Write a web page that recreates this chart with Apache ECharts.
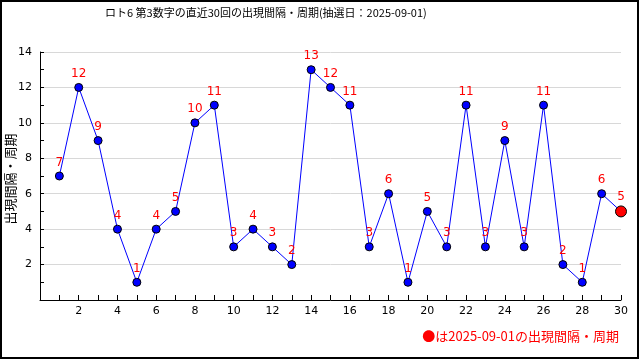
<!DOCTYPE html>
<html><head><meta charset="utf-8">
<script src="https://cdn.jsdelivr.net/npm/echarts@6/dist/echarts.min.js"></script>
<style>html,body{margin:0;padding:0;background:#fff}#c{width:640px;height:360px}</style>
</head><body><div id="c"></div>
<script>
const titleText = 'ロト6 第3数字の直近30回の出現間隔・周期(抽選日：2025-09-01)';
const yName = '出現間隔・周期';
const legendText = '●は2025-09-01の出現間隔・周期';
const draws = [1,2,3,4,5,6,7,8,9,10,11,12,13,14,15,16,17,18,19,20,21,22,23,24,25,26,27,28,29,30];
const intervals = [7,12,9,4,1,4,5,10,11,3,4,3,2,13,12,11,3,6,1,5,3,11,3,9,3,11,2,1,6,5];

const font = '"DejaVu Sans", sans-serif';
const jp = '"Noto Sans CJK JP", sans-serif';
const data = draws.map((d, i) => {
  const last = i === draws.length - 1;
  return last ? {value:[d, intervals[i]], symbolSize: 11, itemStyle:{color:'#ff0000', borderColor:'#000', borderWidth:1}} : [d, intervals[i]];
});
const chart = echarts.init(document.getElementById('c'), null, {renderer:'canvas'});
chart.setOption({
  animation:false,
  backgroundColor:'#fff',
  title:{text:titleText, left:100, top:2, textStyle:{fontFamily:jp, fontSize:11, fontWeight:'normal', color:'#000'}},
  grid:{left:40, right:19, top:52, bottom:60, containLabel:false, outerBoundsMode:'none'},
  xAxis:{type:'value', min:0, max:30, interval:2,
    axisLine:{show:true, lineStyle:{color:'#000', width:1}},
    axisTick:{show:true, inside:true, length:5, lineStyle:{color:'#000'}},
    minorTick:{show:true, splitNumber:2, length:5, lineStyle:{color:'#000'}},
    splitLine:{show:false},
    axisLabel:{color:'#000', fontFamily:font, fontSize:11, margin:6, formatter:v => v === 0 ? '' : String(v)}},
  yAxis:{type:'value', min:0, max:14, interval:2,
    axisLine:{show:true, lineStyle:{color:'#000', width:1}},
    axisTick:{show:true, inside:true, length:4, lineStyle:{color:'#000'}},
    minorTick:{show:true, splitNumber:2, length:4, lineStyle:{color:'#000'}},
    splitLine:{show:true, lineStyle:{color:'#d8d8d8', width:1}},
    axisLabel:{color:'#000', fontFamily:font, fontSize:11, margin:8, formatter:v => v === 0 ? '' : String(v)}},
  series:[{type:'line', data:data, symbol:'circle', symbolSize:8,
    lineStyle:{color:'#0000ff', width:1},
    itemStyle:{color:'#0000ff', borderColor:'#000', borderWidth:1},
    label:{show:true, position:'top', distance:3, color:'#ff0000', fontFamily:font, fontSize:12,
      formatter:p => String(p.value[1])}}],
  graphic:[
    {type:'rect', shape:{x:1, y:1, width:637, height:357}, style:{fill:'none', stroke:'#000', lineWidth:2}, silent:true},
    {type:'text', x:10, y:179, rotation:Math.PI/2, style:{text:yName, fill:'#000', font:'13px ' + jp, align:'center', verticalAlign:'middle'}},
    {type:'text', right:21, top:330, style:{text:legendText, fill:'#ff0000', font:'13px ' + jp}}
  ]
});
</script></body></html>
